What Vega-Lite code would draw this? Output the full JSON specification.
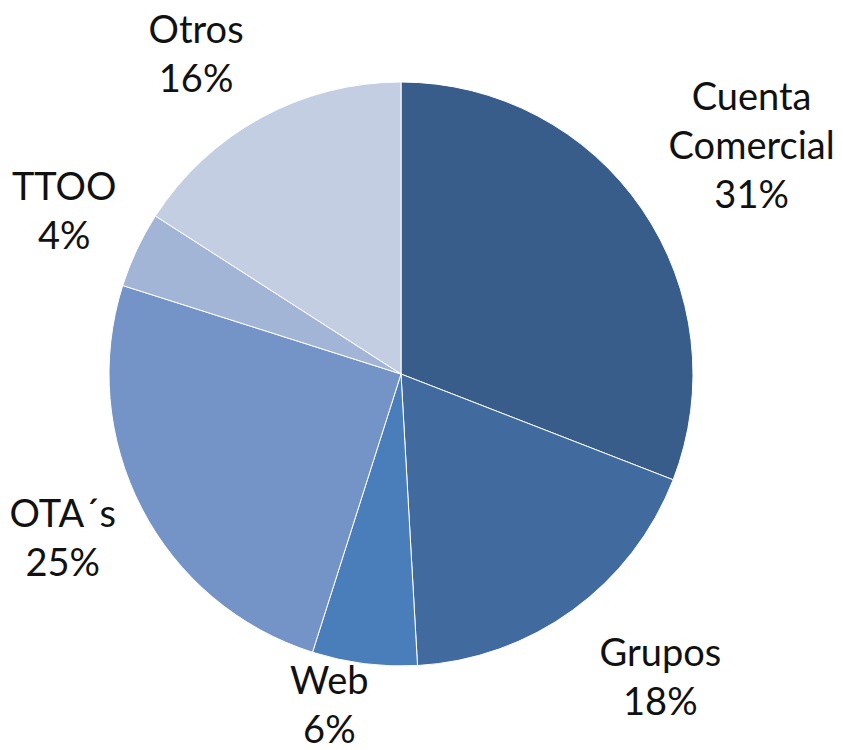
{
  "$schema": "https://vega.github.io/schema/vega-lite/v6.json",
  "width": 802,
  "height": 748,
  "autosize": {"type": "none"},
  "padding": {"left": 0, "top": 0, "right": 41, "bottom": 2},
  "background": "white",
  "view": {"stroke": null},
  "data": {
    "values": [
      {"idx": 1, "category": "Cuenta Comercial", "value": 30.9, "label": "Cuenta\nComercial\n31%"},
      {"idx": 2, "category": "Grupos", "value": 18.2, "label": "Grupos\n18%"},
      {"idx": 3, "category": "Web", "value": 5.8, "label": "Web\n6%"},
      {"idx": 4, "category": "OTA´s", "value": 25.0, "label": "OTA´s\n25%"},
      {"idx": 5, "category": "TTOO", "value": 4.2, "label": "TTOO\n4%"},
      {"idx": 6, "category": "Otros", "value": 15.9, "label": "Otros\n16%"}
    ]
  },
  "encoding": {
    "theta": {"field": "value", "type": "quantitative", "stack": true},
    "order": {"field": "idx", "type": "quantitative"},
    "detail": {"field": "category", "type": "nominal"}
  },
  "layer": [
    {
      "mark": {"type": "arc", "radius": 292, "stroke": "white", "strokeWidth": 1},
      "encoding": {
        "color": {
          "field": "category",
          "type": "nominal",
          "legend": null,
          "scale": {
            "domain": ["Cuenta Comercial", "Grupos", "Web", "OTA´s", "TTOO", "Otros"],
            "range": ["#385D8A", "#416B9F", "#4A7EBB", "#7493C7", "#A3B5D6", "#C3CEE3"]
          }
        }
      }
    },
    {
      "mark": {"type": "text", "radius": 417, "thetaOffset": 0.028, "dy": -49, "font": "Lato", "fontSize": 38, "lineHeight": 49, "lineBreak": "\n", "align": "center", "baseline": "middle", "fill": "#111111"},
      "encoding": {
        "text": {"condition": {"test": "datum.category === 'Cuenta Comercial'", "field": "label"}, "value": ""}
      }
    },
    {
      "mark": {"type": "text", "radius": 401, "thetaOffset": -0.075, "dy": -24.5, "font": "Lato", "fontSize": 38, "lineHeight": 49, "lineBreak": "\n", "align": "center", "baseline": "middle", "fill": "#111111"},
      "encoding": {
        "text": {"condition": {"test": "datum.category === 'Grupos'", "field": "label"}, "value": ""}
      }
    },
    {
      "mark": {"type": "text", "radius": 341, "thetaOffset": 0.086, "dy": -24.5, "font": "Lato", "fontSize": 38, "lineHeight": 49, "lineBreak": "\n", "align": "center", "baseline": "middle", "fill": "#111111"},
      "encoding": {
        "text": {"condition": {"test": "datum.category === 'Web'", "field": "label"}, "value": ""}
      }
    },
    {
      "mark": {"type": "text", "radius": 377, "thetaOffset": 0.02, "dy": -24.5, "font": "Lato", "fontSize": 38, "lineHeight": 49, "lineBreak": "\n", "align": "center", "baseline": "middle", "fill": "#111111"},
      "encoding": {
        "text": {"condition": {"test": "datum.category === 'OTA´s'", "field": "label"}, "value": ""}
      }
    },
    {
      "mark": {"type": "text", "radius": 373, "thetaOffset": 0.004, "dy": -24.5, "font": "Lato", "fontSize": 38, "lineHeight": 49, "lineBreak": "\n", "align": "center", "baseline": "middle", "fill": "#111111"},
      "encoding": {
        "text": {"condition": {"test": "datum.category === 'TTOO'", "field": "label"}, "value": ""}
      }
    },
    {
      "mark": {"type": "text", "radius": 380, "thetaOffset": -0.07, "dy": -22, "font": "Lato", "fontSize": 38, "lineHeight": 49, "lineBreak": "\n", "align": "center", "baseline": "middle", "fill": "#111111"},
      "encoding": {
        "text": {"condition": {"test": "datum.category === 'Otros'", "field": "label"}, "value": ""}
      }
    }
  ]
}
